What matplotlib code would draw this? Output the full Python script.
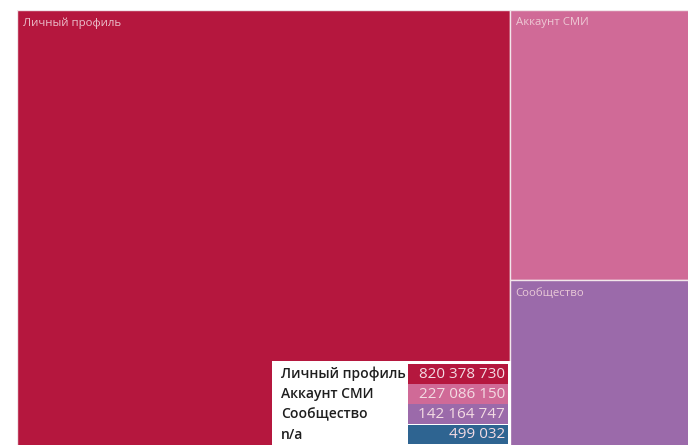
import matplotlib.pyplot as plt
from matplotlib.patches import Rectangle

plt.rcParams['font.family'] = ['Open Sans', 'DejaVu Sans']

categories = ["Личный профиль", "Аккаунт СМИ", "Сообщество", "n/a"]
values = [820378730, 227086150, 142164747, 499032]
value_labels = ["820 378 730", "227 086 150", "142 164 747", "499 032"]
colors = ["#B5173E", "#D06A97", "#9B6AAA", "#2E6491"]

W, H = 688, 445
fig = plt.figure(figsize=(W / 100, H / 100), dpi=100)
fig.patch.set_facecolor("white")

# treemap area (extends a bit past the right/bottom edge, as in the cropped reference)
x0, top, tw, th = 17, 10, 715, 440
ax = fig.add_axes([x0 / W, (H - top - th) / H, tw / W, th / H])
ax.set_xlim(0, 1)
ax.set_ylim(0, 1)
ax.axis("off")

total = sum(values)
# first item takes a full-height column, rest stacked in the right column
w0 = values[0] / total
rects = [(0, 0, w0, 1)]
rest = sum(values[1:])
y = 1.0
for v in values[1:]:
    h = v / rest
    y -= h
    rects.append((w0, y, 1 - w0, h))

for (rx, ry, rw, rh), c, name in zip(rects, colors, categories):
    ax.add_patch(Rectangle((rx, ry), rw, rh, facecolor=c, edgecolor="#f2e6ea", lw=1.0))
    if rh > 0.05:
        ax.text(rx + 0.008, ry + rh - 0.017, name, color="#f1d3dc", fontsize=8.2,
                va="top", ha="left", alpha=0.9)

# legend table
lax = fig.add_axes([0, 0, 1, 1])
lax.set_xlim(0, W)
lax.set_ylim(H, 0)
lax.axis("off")
lax.add_patch(Rectangle((272, 361), 239, 90, facecolor="white", edgecolor="none"))
row_h = 20.2
for i, (name, lab, c) in enumerate(zip(categories, value_labels, colors)):
    ry = 364 + i * row_h
    lax.add_patch(Rectangle((408, ry), 99.5, row_h - 0.6, facecolor=c, edgecolor="none"))
    lax.text(281, ry + row_h / 2, name, fontsize=10.0, color="#1e1e1e", va="center",
             ha="left", fontweight="semibold")
    lax.text(505, ry + row_h / 2, lab, fontsize=11.0, color="#f3dbe3", va="center", ha="right")

fig.savefig("out.png", dpi=100)
